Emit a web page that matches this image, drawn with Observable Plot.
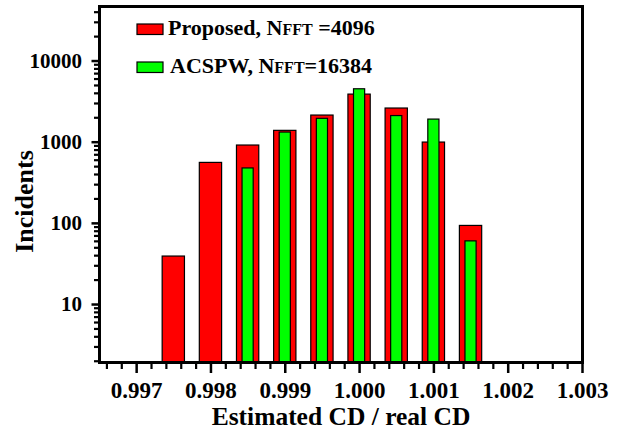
<!DOCTYPE html>
<html>
<head>
<meta charset="utf-8">
<script src="https://cdn.jsdelivr.net/npm/d3@7"></script>
<script src="https://cdn.jsdelivr.net/npm/@observablehq/plot@0.6"></script>
<style>
  html, body { margin: 0; padding: 0; background: white; }
  #chart { width: 623px; height: 432px; }
</style>
</head>
<body>
<div id="chart"></div>
<script>
// ---- Data ----
const binCenters   = [0.9975, 0.998, 0.9985, 0.999, 0.9995, 1.000, 1.0005, 1.001, 1.0015];
const proposedVals = [39, 556, 910, 1380, 2130, 3860, 2600, 990, 93];
const acspwCenters = [0.9985, 0.999, 0.9995, 1.000, 1.0005, 1.001, 1.0015];
const acspwVals    = [475, 1315, 1940, 4490, 2100, 1900, 60];

const xTicks = [0.997, 0.998, 0.999, 1.000, 1.001, 1.002, 1.003];
const yTicks = [10, 100, 1000, 10000];
const legendLabels = ["Proposed, N", "ACSPW, N"];
const legendSub = ["FFT", "FFT"];
const legendTail = [" =4096", "=16384"];

const proposed = binCenters.map((x, i) => ({x, v: proposedVals[i]}));
const acspw = acspwCenters.map((x, i) => ({x, v: acspwVals[i]}));

const yMin = 1.93, yMax = 47000;
const xMinor = d3.range(0, 33).map(i => +(0.9966 + i * 0.0002).toFixed(4))
  .filter(v => Math.abs(v * 1000 - Math.round(v * 1000)) > 1e-6);
const yMinor = [];
[1, 10, 100, 1000, 10000].forEach(d => { for (let k = 2; k <= 9; k++) { const v = d * k; if (v > yMin && v < yMax) yMinor.push(v); } });

const font = "'Liberation Serif', 'Times New Roman', serif";

const chart = Plot.plot({
  width: 623,
  height: 432,
  marginLeft: 99,
  marginRight: 41,
  marginTop: 6,
  marginBottom: 70,
  style: {fontFamily: font, fontWeight: "bold", background: "white", color: "black", overflow: "visible"},
  x: {domain: [0.9965, 1.003]},
  y: {type: "log", domain: [yMin, yMax]},
  marks: [
    Plot.rect(proposed, {x1: d => d.x - 0.00015, x2: d => d.x + 0.00015, y1: yMin, y2: "v",
      fill: "#ff0000", stroke: "black", strokeWidth: 1.2}),
    Plot.rect(acspw, {x1: d => d.x - 0.000075, x2: d => d.x + 0.000075, y1: yMin, y2: "v",
      fill: "#00ff00", stroke: "black", strokeWidth: 1.2}),
    Plot.axisX({ticks: xMinor, tickSize: 7, tickFormat: () => "", label: null, strokeWidth: 2.2}),
    Plot.axisX({ticks: xTicks, tickSize: 11, tickPadding: 8, tickFormat: d3.format(".3f"),
      fontSize: 23, label: null, strokeWidth: 2.5}),
    Plot.axisY({ticks: yMinor, tickSize: 5, tickFormat: () => "", label: null, strokeWidth: 2.2}),
    Plot.axisY({ticks: yTicks, tickSize: 7.5, tickPadding: 10, tickFormat: d => String(d),
      fontSize: 21, label: null, strokeWidth: 2.5}),
    Plot.frame({stroke: "black", strokeWidth: 3})
  ]
});

document.getElementById("chart").appendChild(chart);

// ---- Axis titles and in-plot legend ----
const svg = d3.select(chart);
svg.append("text")
  .attr("transform", "translate(33,201.5) rotate(-90)")
  .attr("text-anchor", "middle")
  .attr("font-family", font).attr("font-weight", "bold").attr("font-size", 26)
  .attr("fill", "black")
  .text("Incidents");
svg.append("text")
  .attr("x", 341).attr("y", 425)
  .attr("text-anchor", "middle")
  .attr("font-family", font).attr("font-weight", "bold").attr("font-size", 25.5)
  .attr("fill", "black")
  .text("Estimated CD / real CD");

const legendColors = ["#ff0000", "#00ff00"];
const legendRows = [{ry: 24, ty: 35, tx: 168}, {ry: 62, ty: 73, tx: 170}];
legendRows.forEach((r, i) => {
  svg.append("rect")
    .attr("x", 137).attr("y", r.ry).attr("width", 26).attr("height", 10.5)
    .attr("fill", legendColors[i]).attr("stroke", "black").attr("stroke-width", 1.2);
  const t = svg.append("text")
    .attr("x", r.tx).attr("y", r.ty)
    .attr("text-anchor", "start")
    .attr("font-family", font).attr("font-weight", "bold").attr("font-size", 22)
    .attr("fill", "black");
  t.append("tspan").text(legendLabels[i]);
  t.append("tspan").attr("font-size", 16).text(legendSub[i]);
  t.append("tspan").text(legendTail[i]);
});
</script>
</body>
</html>
